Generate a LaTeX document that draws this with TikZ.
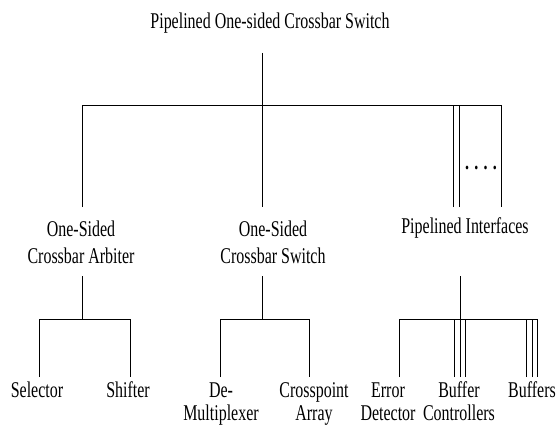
\documentclass[tikz,border=0pt]{standalone}
\usepackage{fontspec}
\setmainfont{Liberation Serif}[FakeStretch=0.71]
\usetikzlibrary{positioning}
\tikzstyle{part} = [inner sep=0pt, anchor=base, align=center, font=\fontsize{22.5}{27}\selectfont]
\tikzstyle{leaf} = [part, font=\fontsize{22.5}{23}\selectfont]
\tikzstyle{line} = [draw, line width=0.9pt]

\begin{document}
\begin{tikzpicture}[x=1pt, y=-1pt]
	\useasboundingbox (0,0) rectangle (557,425);

	% Place nodes
	\node [part] (Crossbar Switch)	at (270,29)		{Pipelined One-sided Crossbar Switch};
	\node [part] (Arbiter)			at (81,263)		{One-Sided\\Crossbar Arbiter};
	\node [part] (Switch)			at (273,263)	{One-Sided\\Crossbar Switch};
	\node [part] (Interfaces)		at (465,233)	{Pipelined Interfaces};
	\node [part, font=\bfseries\fontsize{22.5}{27}\selectfont] (Dots) at (481,169) {. . . .};
	\node [leaf] (Selector)			at (37,397)		{Selector};
	\node [leaf] (Shifter)			at (128,397)	{Shifter};
	\node [leaf] (Demux)			at (221,420)	{De-\\Multiplexer};
	\node [leaf] (Crosspoint)		at (314,420)	{Crosspoint\\Array};
	\node [leaf] (Error)			at (388,420)	{Error\\Detector};
	\node [leaf] (Controllers)		at (459,420)	{Buffer\\Controllers};
	\node [leaf] (Buffers)			at (532,397)	{Buffers};

	% Junctions
	\coordinate (Root)		at (262,53);
	\coordinate (Root bar)	at (262,105);
	\coordinate (Arbiter in)	at (82,207);
	\coordinate (Switch in)	at (262,207);
	\coordinate (Ports in)	at (459,207);
	\coordinate (More in)	at (501,207);
	\coordinate (Arbiter out)	at (82,276);
	\coordinate (Switch out)	at (262,276);
	\coordinate (Ports out)	at (460,276);
	\coordinate (Arbiter bar)	at (82,319);
	\coordinate (Switch bar)	at (262,319);
	\coordinate (Ports bar)	at (460,319);
	\coordinate (Selector in)	at (39,377);
	\coordinate (Shifter in)	at (130,377);
	\coordinate (Demux in)	at (220,377);
	\coordinate (Crosspoint in)	at (309,377);
	\coordinate (Error in)	at (399,377);
	\coordinate (Controllers in)	at (460,377);
	\coordinate (Buffers in)	at (532,377);

	%Draw edges
	\path [line] (Root) -- (Switch in);
	\path [line] (Arbiter in) -- (Arbiter in |- Root bar) -- (More in |- Root bar) -- (More in);
	\path [line] (Ports in) -- (Ports in |- Root bar);
	\path [line] ([xshift=-6pt]Ports in) -- ([xshift=-6pt]Ports in |- Root bar);

	\path [line] (Arbiter out) -- (Arbiter bar);
	\path [line] (Selector in) -- (Selector in |- Arbiter bar) -- (Shifter in |- Arbiter bar) -- (Shifter in);
	\path [line] (Switch out) -- (Switch bar);
	\path [line] (Demux in) -- (Demux in |- Switch bar) -- (Crosspoint in |- Switch bar) -- (Crosspoint in);
	\path [line] (Ports out) -- (Ports bar);
	\path [line] (Error in) -- (Error in |- Ports bar) -- ([xshift=5pt]Buffers in |- Ports bar) -- ([xshift=5pt]Buffers in);
	\path [line] (Controllers in) -- (Controllers in |- Ports bar);
	\path [line] ([xshift=-6pt]Controllers in) -- ([xshift=-6pt]Controllers in |- Ports bar);
	\path [line] ([xshift=5pt]Controllers in) -- ([xshift=5pt]Controllers in |- Ports bar);
	\path [line] (Buffers in) -- (Buffers in |- Ports bar);
	\path [line] ([xshift=-6pt]Buffers in) -- ([xshift=-6pt]Buffers in |- Ports bar);

\end{tikzpicture}
\end{document}
